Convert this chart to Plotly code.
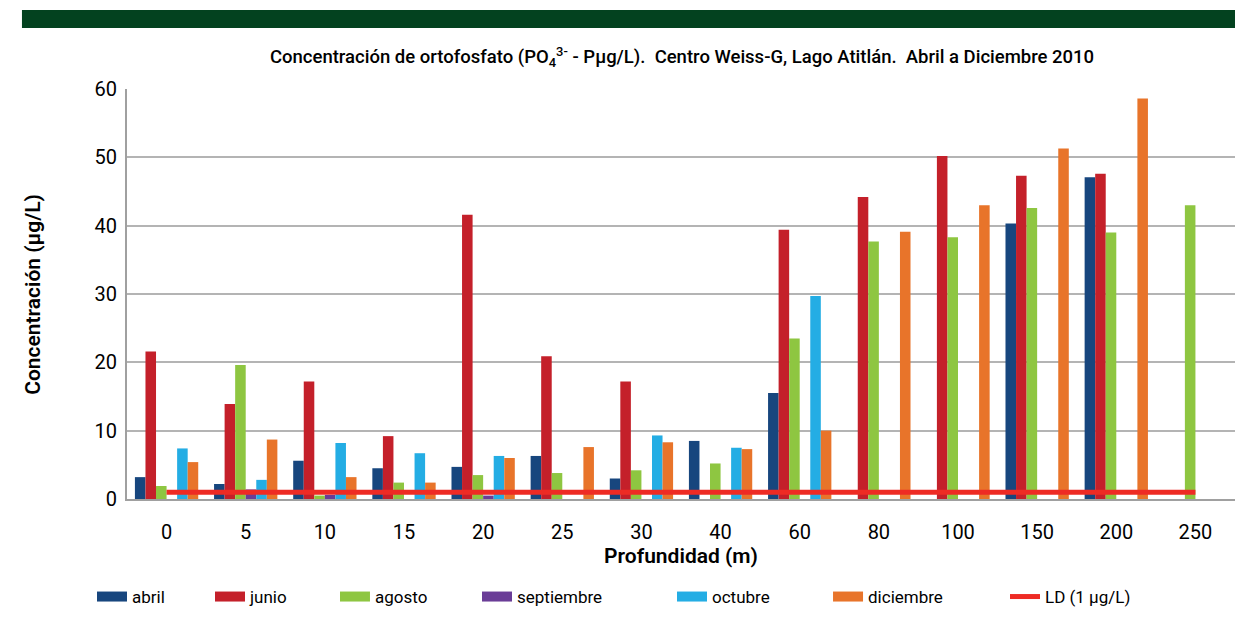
import plotly.graph_objects as go

# profundidad (m)
depths = ["0", "5", "10", "15", "20", "25", "30", "40", "60", "80", "100", "150", "200", "250"]

# concentración de ortofosfato (ug/L) por mes
abril = [3.2, 2.2, 5.6, 4.5, 4.7, 6.3, 3.0, 8.5, 15.5, None, None, 40.3, 47.1, None]
junio = [21.6, 13.9, 17.2, 9.2, 41.6, 20.9, 17.2, None, 39.4, 44.2, 50.2, 47.3, 47.6, None]
agosto = [1.9, 19.6, 0.5, 2.4, 3.5, 3.8, 4.2, 5.2, 23.5, 37.7, 38.3, 42.6, 39.0, 43.0]
septiembre = [None, 1.4, 0.6, None, 0.5, None, None, None, None, None, None, None, None, None]
octubre = [7.4, 2.8, 8.2, 6.7, 6.3, None, 9.3, 7.5, 29.7, None, None, None, None, None]
diciembre = [5.4, 8.7, 3.2, 2.4, 6.0, 7.6, 8.3, 7.3, 10.0, 39.1, 43.0, 51.3, 58.6, None]
ld = [1] * len(depths)

FONT = "Roboto"
LD_NAME = "LD (1 \u03bcg/L)"

series = [
    ("abril", abril, "#17467e"),
    ("junio", junio, "#c4202a"),
    ("agosto", agosto, "#8ec641"),
    ("septiembre", septiembre, "#6a3d97"),
    ("octubre", octubre, "#24ade4"),
    ("diciembre", diciembre, "#e8742a"),
]

# posición horizontal de cada entrada de la leyenda (fracción del área de trazado)
legend_x = [-0.0316, 0.0749, 0.1877, 0.3159, 0.4919, 0.6327, 0.7924]

fig = go.Figure()
for name, vals, col in series:
    fig.add_trace(go.Bar(x=depths, y=vals, name=name, marker_color=col, marker_line_width=0,
                         showlegend=False, legendgroup=name))

fig.add_trace(go.Scatter(x=depths, y=ld, name=LD_NAME, mode="lines",
                         line=dict(color="#ee2b24", width=5), showlegend=False, legendgroup="ld"))

# entradas de leyenda con bloques anchos como en el original, cada una en su propia leyenda
legend_ids = ["legend"] + ["legend%d" % i for i in range(2, 8)]
for i, (name, vals, col) in enumerate(series):
    fig.add_trace(go.Scatter(x=[None], y=[None], mode="lines", name=name, legendgroup=name,
                             legend=legend_ids[i], line=dict(color=col, width=15)))
fig.add_trace(go.Scatter(x=[None], y=[None], mode="lines", name=LD_NAME, legendgroup="ld",
                         legend=legend_ids[6], line=dict(color="#ee2b24", width=5)))

fig.update_layout(
    width=1241, height=623,
    paper_bgcolor="white", plot_bgcolor="white",
    margin=dict(l=127, r=6, t=89, b=124),
    font=dict(family=FONT, size=20, color="black"),
    barmode="group", bargap=0.2, bargroupgap=0,
    title=dict(text="Concentración de ortofosfato (PO<sub>4</sub><sup>3-</sup> - P\u03bcg/L).  "
                    "Centro Weiss-G, Lago Atitlán.  Abril a Diciembre 2010",
               x=0.5496, xanchor="center", y=0.9085, yanchor="middle",
               font=dict(family=FONT, size=18.5, weight=500)),
    showlegend=True,
)
for lid, lx in zip(legend_ids, legend_x):
    fig.update_layout({lid: dict(orientation="h", x=lx, xanchor="left", y=-0.239, yanchor="middle",
                                 font=dict(size=17), bgcolor="rgba(0,0,0,0)")})

fig.update_xaxes(type="category", showline=True, linecolor="#a0a0a0", linewidth=2,
                 ticks="", tickfont=dict(size=20), ticklabelstandoff=14,
                 title=dict(text="Profundidad (m)", font=dict(size=21, weight=600), standoff=0))
fig.update_yaxes(range=[0, 60], dtick=10, showgrid=True, gridcolor="#b4b4b4", gridwidth=2,
                 showline=True, linecolor="#a0a0a0", linewidth=2, zeroline=False,
                 ticks="", tickfont=dict(size=20), ticklabelstandoff=4)

# franja verde superior
fig.add_shape(type="rect", xref="paper", yref="paper", x0=-0.0948, x1=1.0, y0=1.1488, y1=1.1927,
              fillcolor="#03421f", line_width=0, layer="above")

fig.add_annotation(text="Concentración (\u03bcg/L)", xref="paper", yref="paper", x=-0.085, y=0.5,
                   xanchor="center", yanchor="middle",
                   textangle=-90, showarrow=False, font=dict(size=21, weight=600))

fig.write_html("out.html", config={"displayModeBar": False},
               post_script="document.body.style.margin='0';")
